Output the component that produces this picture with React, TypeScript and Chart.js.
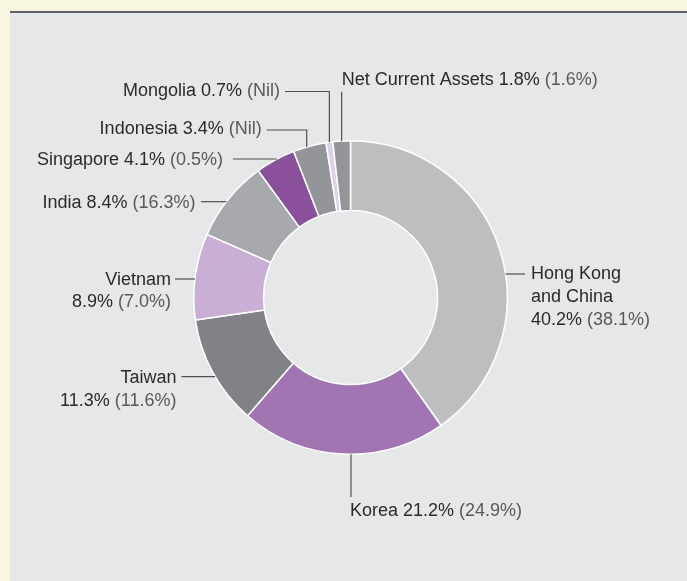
import React, { useEffect, useRef } from "react";
import { Chart, registerables } from "chart.js";

Chart.register(...registerables);

const categories = [
  "Hong Kong and China",
  "Korea",
  "Taiwan",
  "Vietnam",
  "India",
  "Singapore",
  "Indonesia",
  "Mongolia",
  "Net Current Assets",
];
const shares = [40.2, 21.2, 11.3, 8.9, 8.4, 4.1, 3.4, 0.7, 1.8];
const priorShares = ["38.1%", "24.9%", "11.6%", "7.0%", "16.3%", "0.5%", "Nil", "Nil", "1.6%"];
const sliceColors = [
  "#bcbec0",
  "#a075b1",
  "#808285",
  "#c9afd5",
  "#a7a9ac",
  "#8a509c",
  "#939598",
  "#ddd0e8",
  "#939598",
];

// label placement (layout only)
const labelLayout: any[] = [
  { align: "left", x: 531, y: 273, lh: 22.75, nameLines: ["Hong Kong", "and China"], leader: { kind: "h", from: 525, y: 274 } },
  { align: "left", x: 350, y: 509.7, leader: { kind: "vdown", pos: 0.46, to: 497 } },
  { align: "right", x: 176.5, y: 376.7, lh: 23.3, nameLines: ["Taiwan"], leader: { kind: "h", from: 181.5, y: 376.7 } },
  { align: "right", x: 171, y: 278.5, lh: 21.7, nameLines: ["Vietnam"], leader: { kind: "h", from: 175, y: 279 } },
  { align: "right", x: 195.5, y: 201.7, leader: { kind: "h", from: 201, y: 201.7 } },
  { align: "right", x: 223, y: 158.2, leader: { kind: "h", from: 233, y: 159 } },
  { align: "right", x: 261.7, y: 127.7, leader: { kind: "elbow", from: 266.7, y: 130, pos: 0.41 } },
  { align: "right", x: 280, y: 90, leader: { kind: "elbow", from: 285, y: 91.5, pos: 0.5 } },
  { align: "left", x: 341.7, y: 78.7, leader: { kind: "vup", pos: 0.5, from: 91.7 } },
];

const FONT = '18px "Liberation Sans", Arial, sans-serif';
const MAIN_COLOR = "#2b2a2b";
const SUB_COLOR = "#58595b";
const LINE_COLOR = "#4f4f51";

const labelPlugin = {
  id: "calloutLabels",
  afterDraw(chart: any) {
    const ctx = chart.ctx;
    const meta = chart.getDatasetMeta(0);
    ctx.save();
    ctx.font = FONT;
    ctx.textBaseline = "alphabetic";
    const capHalf = 6.45;
    meta.data.forEach((arc: any, i: number) => {
      const lay = labelLayout[i];
      if (!lay) return;
      const p = arc.getProps(["x", "y", "startAngle", "endAngle", "outerRadius"], true);
      const cx = p.x, cy = p.y, R = p.outerRadius;
      const value = shares[i].toFixed(1) + "%";
      const prior = " (" + priorShares[i] + ")";
      // build lines of runs
      let lines: [string, string][][];
      if (lay.nameLines) {
        lines = lay.nameLines.map((t: string) => [[t, MAIN_COLOR]]);
        lines.push([[value, MAIN_COLOR], [prior, SUB_COLOR]]);
      } else {
        lines = [[[categories[i] + " " + value, MAIN_COLOR], [prior, SUB_COLOR]]];
      }
      lines.forEach((runs, li) => {
        const y = lay.y + li * (lay.lh || 22.5) + capHalf;
        const total = runs.reduce((s, r) => s + ctx.measureText(r[0]).width, 0);
        let x = lay.align === "right" ? lay.x - total : lay.x;
        runs.forEach((r) => {
          ctx.fillStyle = r[1];
          ctx.textAlign = "left";
          ctx.fillText(r[0], x, y);
          x += ctx.measureText(r[0]).width;
        });
      });
      // leader
      const L = lay.leader;
      ctx.strokeStyle = LINE_COLOR;
      ctx.lineWidth = 1.2;
      ctx.beginPath();
      if (L.kind === "h") {
        const dy = L.y - cy;
        const dx = Math.sqrt(Math.max(R * R - dy * dy, 0));
        const ex = lay.align === "right" ? cx - dx : cx + dx;
        ctx.moveTo(L.from, L.y);
        ctx.lineTo(ex, L.y);
      } else {
        const a = p.startAngle + (L.pos ?? 0.5) * (p.endAngle - p.startAngle);
        const px = cx + R * Math.cos(a);
        const dyc = Math.sqrt(Math.max(R * R - (px - cx) * (px - cx), 0));
        if (L.kind === "elbow") {
          ctx.moveTo(L.from, L.y);
          ctx.lineTo(px, L.y);
          ctx.lineTo(px, cy - dyc);
        } else if (L.kind === "vup") {
          ctx.moveTo(px, L.from);
          ctx.lineTo(px, cy - dyc);
        } else if (L.kind === "vdown") {
          ctx.moveTo(px, cy + dyc);
          ctx.lineTo(px, L.to);
        }
      }
      ctx.stroke();
    });
    ctx.restore();
  },
};

export default function App() {
  const ref = useRef<HTMLCanvasElement | null>(null);
  useEffect(() => {
    if (!ref.current) return;
    const chart = new Chart(ref.current, {
      type: "doughnut",
      data: {
        labels: categories,
        datasets: [
          {
            data: shares,
            backgroundColor: sliceColors,
            borderColor: "#ffffff",
            borderWidth: 1.5,
          },
        ],
      },
      options: {
        animation: false,
        responsive: false,
        maintainAspectRatio: false,
        cutout: "55.5%",
        layout: { padding: { left: 193, right: 179, top: 140, bottom: 126 } },
        plugins: { legend: { display: false }, tooltip: { enabled: false } },
      },
      plugins: [labelPlugin],
    });
    return () => chart.destroy();
  }, []);
  return (
    <div style={{ position: "fixed", left: 0, top: 0, width: 687, height: 581, background: "#f8f5e1", overflow: "hidden" }}>
      <div
        style={{
          position: "absolute",
          left: 10,
          top: 11,
          right: 0,
          bottom: 0,
          background: "#e6e7e8",
          borderTop: "2px solid #626365",
        }}
      />
      <canvas ref={ref} width={687} height={581} style={{ position: "absolute", left: 0, top: 0, width: 687, height: 581 }} />
    </div>
  );
}
